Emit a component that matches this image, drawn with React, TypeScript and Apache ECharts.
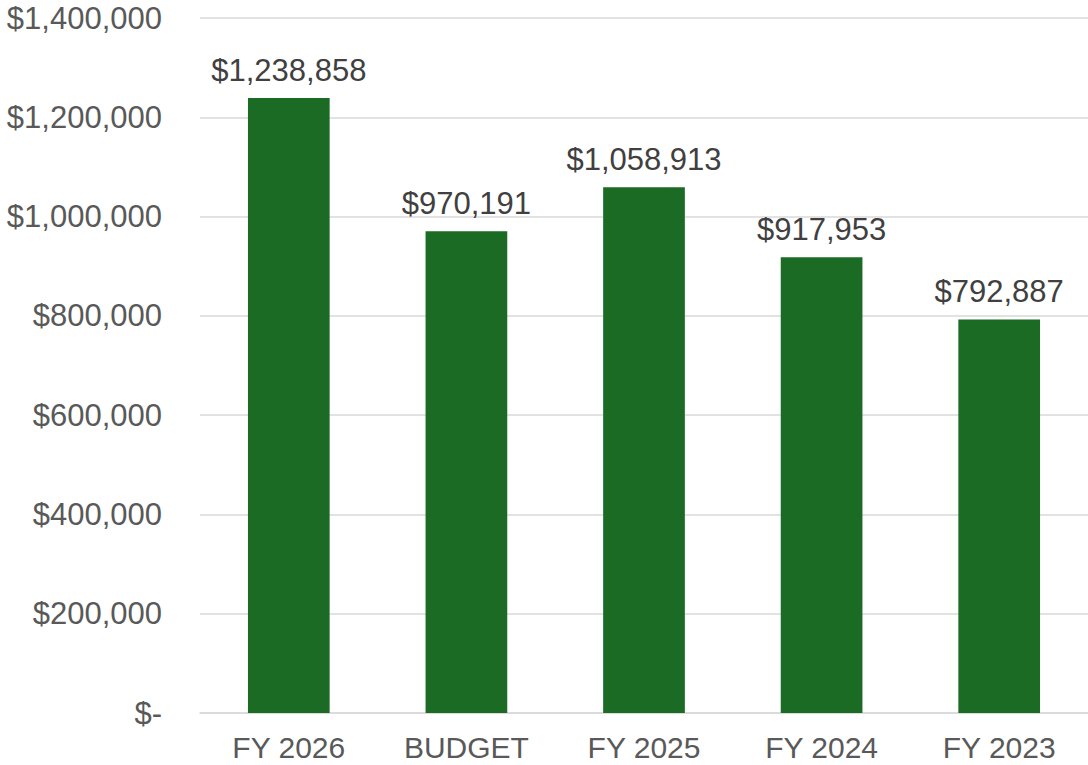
import React, { useEffect, useRef } from "react";
import * as echarts from "echarts";

const categories = ["FY 2026", "BUDGET", "FY 2025", "FY 2024", "FY 2023"];
const values = [1238858, 970191, 1058913, 917953, 792887];

const fmt = (v: number) => "$" + v.toLocaleString("en-US");

export default function App() {
  const ref = useRef<HTMLDivElement>(null);
  useEffect(() => {
    const chart = echarts.init(ref.current!, null, { renderer: "svg" });
    chart.setOption({
      animation: false,
      grid: { left: 200, right: 0, top: 18, bottom: 52, containLabel: false },
      xAxis: {
        type: "category",
        data: categories,
        axisLine: { show: true, lineStyle: { color: "#d9d9d9", width: 1.5 } },
        axisTick: { show: false },
        axisLabel: {
          color: "#595959",
          fontSize: 30,
          lineHeight: 24,
          fontFamily: "Liberation Sans, Arial, sans-serif",
          margin: 22,
        },
      },
      yAxis: {
        type: "value",
        min: 0,
        max: 1400000,
        interval: 200000,
        axisLine: { show: false },
        axisTick: { show: false },
        splitLine: { lineStyle: { color: "#d9d9d9", width: 1.5 } },
        axisLabel: {
          color: "#595959",
          fontSize: 31,
          lineHeight: 24,
          fontFamily: "Liberation Sans, Arial, sans-serif",
          margin: 38,
          formatter: (v: number) => (v === 0 ? "$-" : fmt(v)),
        },
      },
      series: [
        {
          type: "bar",
          data: values,
          barWidth: "46%",
          itemStyle: { color: "#1b6b25" },
          label: {
            show: true,
            position: "top",
            distance: 12,
            color: "#404040",
            fontSize: 31,
            fontFamily: "Liberation Sans, Arial, sans-serif",
            formatter: (p: any) => fmt(p.value),
          },
        },
      ],
    });
    return () => chart.dispose();
  }, []);
  return (
    <div
      ref={ref}
      style={{ position: "absolute", left: 0, top: 0, width: 1088, height: 765, background: "#fff" }}
    />
  );
}
